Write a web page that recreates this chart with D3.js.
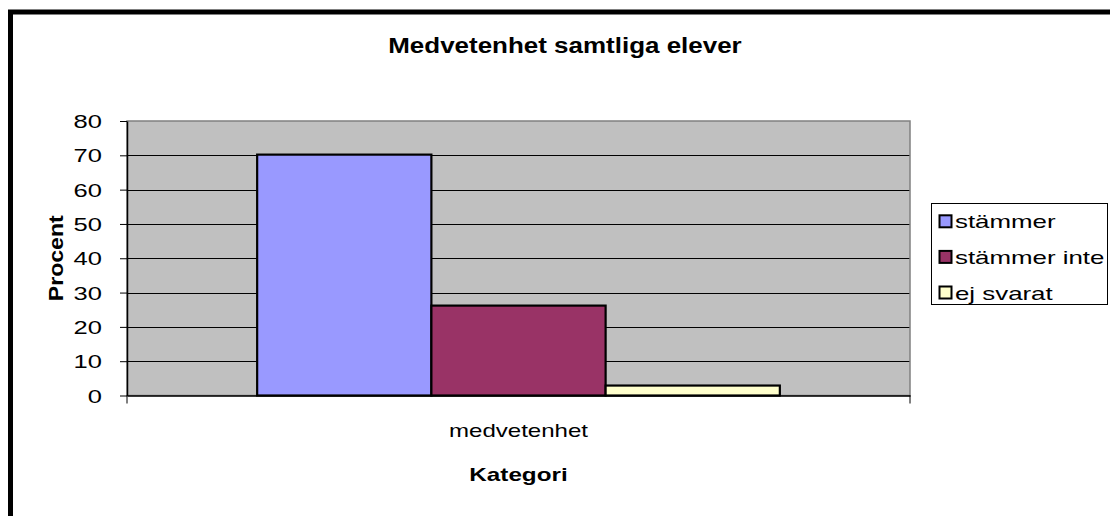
<!DOCTYPE html>
<html>
<head>
<meta charset="utf-8">
<script src="https://cdn.jsdelivr.net/npm/d3@7"></script>
<style>
  body { margin: 0; background: #fff; }
  svg { display: block; font-family: "Liberation Sans", Arial, sans-serif; }
</style>
</head>
<body>
<svg id="chart" width="1110" height="516"></svg>
<script>
// data
const categories = ["medvetenhet"];
const seriesNames = ["stämmer", "stämmer inte", "ej svarat"];
const seriesValues = [70.2, 26.2, 2.9];
const seriesColors = ["#9999ff", "#993366", "#ffffcc"];
const yTicks = [0, 10, 20, 30, 40, 50, 60, 70, 80];

const svg = d3.select("#chart");
const plot = { left: 127, right: 910, top: 121, bottom: 395.5 };

// the original chart is stretched sideways, so the text is wider than normal
function widen(sel, factor) {
  sel.each(function () {
    const w = this.getComputedTextLength();
    this.setAttribute("textLength", w * factor);
    this.setAttribute("lengthAdjust", "spacingAndGlyphs");
  });
}

// chart area border
svg.append("rect")
  .attr("x", 10.5).attr("y", 12)
  .attr("width", 1130).attr("height", 540)
  .attr("fill", "#fff")
  .attr("stroke", "#000")
  .attr("stroke-width", 5);

// title
svg.append("text")
  .attr("x", 565).attr("y", 53)
  .attr("text-anchor", "middle")
  .style("font-size", "22px")
  .style("font-weight", "bold")
  .text("Medvetenhet samtliga elever")
  .call(widen, 1.18);

const y = d3.scaleLinear().domain([0, 80]).range([plot.bottom, plot.top]);
const x = d3.scaleBand().domain(categories)
  .range([plot.left, plot.right])
  .paddingInner(0).paddingOuter(0.249);
const xs = d3.scaleBand().domain(seriesNames).range([0, x.bandwidth()]).padding(0);

// plot background
svg.append("rect")
  .attr("x", plot.left).attr("y", plot.top)
  .attr("width", plot.right - plot.left)
  .attr("height", plot.bottom - plot.top)
  .attr("fill", "#c0c0c0");

// gridlines
svg.append("g").selectAll("line")
  .data(yTicks.filter(d => d > 0 && d < 80))
  .join("line")
  .attr("x1", plot.left).attr("x2", plot.right)
  .attr("y1", d => Math.round(y(d)) + 0.5).attr("y2", d => Math.round(y(d)) + 0.5)
  .attr("stroke", "#000").attr("stroke-width", 1);

// plot border
svg.append("rect")
  .attr("x", plot.left).attr("y", plot.top)
  .attr("width", plot.right - plot.left)
  .attr("height", plot.bottom - plot.top)
  .attr("fill", "none")
  .attr("stroke", "#808080").attr("stroke-width", 1.5);

// bars
svg.append("g").selectAll("rect")
  .data(seriesValues)
  .join("rect")
  .attr("x", (d, i) => x(categories[0]) + xs(seriesNames[i]))
  .attr("y", d => y(d))
  .attr("width", xs.bandwidth())
  .attr("height", d => y(0) - y(d))
  .attr("fill", (d, i) => seriesColors[i])
  .attr("stroke", "#000").attr("stroke-width", 2.2);

// y axis
const yAxis = svg.append("g")
  .attr("transform", `translate(${plot.left},0)`)
  .call(d3.axisLeft(y).tickValues(yTicks).tickSize(7).tickPadding(18).tickSizeOuter(0));
yAxis.select(".domain").attr("stroke", "#000").attr("stroke-width", 1.5);
yAxis.selectAll(".tick line").attr("stroke", "#000");
yAxis.selectAll(".tick text")
  .style("font-size", "18.5px")
  .style("font-family", "Liberation Sans, Arial, sans-serif")
  .attr("fill", "#000")
  .attr("dy", "0.36em")
  .call(widen, 1.38);

// x axis
const xAxis = svg.append("g")
  .attr("transform", `translate(0,${plot.bottom})`)
  .call(d3.axisBottom(x).tickSize(0).tickPadding(0).tickSizeOuter(0));
xAxis.select(".domain").attr("stroke", "#000").attr("stroke-width", 1.5);
xAxis.selectAll(".tick text")
  .attr("y", 41).attr("dy", 0)
  .style("font-size", "18.5px")
  .style("font-family", "Liberation Sans, Arial, sans-serif")
  .attr("fill", "#000")
  .call(widen, 1.3);
// end ticks of the category axis
xAxis.selectAll(".edge")
  .data([plot.left, plot.right])
  .join("line")
  .attr("x1", d => d).attr("x2", d => d)
  .attr("y1", 0).attr("y2", 8)
  .attr("stroke", "#000");

// axis titles
svg.append("text")
  .attr("transform", `translate(63,${(plot.top + plot.bottom) / 2}) rotate(-90)`)
  .attr("text-anchor", "middle")
  .style("font-size", "21px").style("font-weight", "bold")
  .text("Procent")
  .call(widen, 1.1);

svg.append("text")
  .attr("x", (plot.left + plot.right) / 2).attr("y", 481)
  .attr("text-anchor", "middle")
  .style("font-size", "18.5px").style("font-weight", "bold")
  .text("Kategori")
  .call(widen, 1.31);

// legend
const legend = svg.append("g").attr("transform", "translate(931,203)");
legend.append("rect")
  .attr("x", 0.5).attr("y", 0.5)
  .attr("width", 176).attr("height", 101)
  .attr("fill", "#fff").attr("stroke", "#000");
const items = legend.selectAll(".item")
  .data(seriesNames)
  .join("g")
  .attr("transform", (d, i) => `translate(8,${18.3 + i * 35.6})`);
items.append("rect")
  .attr("x", 0.5).attr("y", -6)
  .attr("width", 12).attr("height", 12)
  .attr("fill", (d, i) => seriesColors[i])
  .attr("stroke", "#000").attr("stroke-width", 2);
items.append("text")
  .attr("x", 16).attr("y", 7)
  .style("font-size", "19px")
  .text(d => d)
  .call(widen, 1.36);
</script>
</body>
</html>
